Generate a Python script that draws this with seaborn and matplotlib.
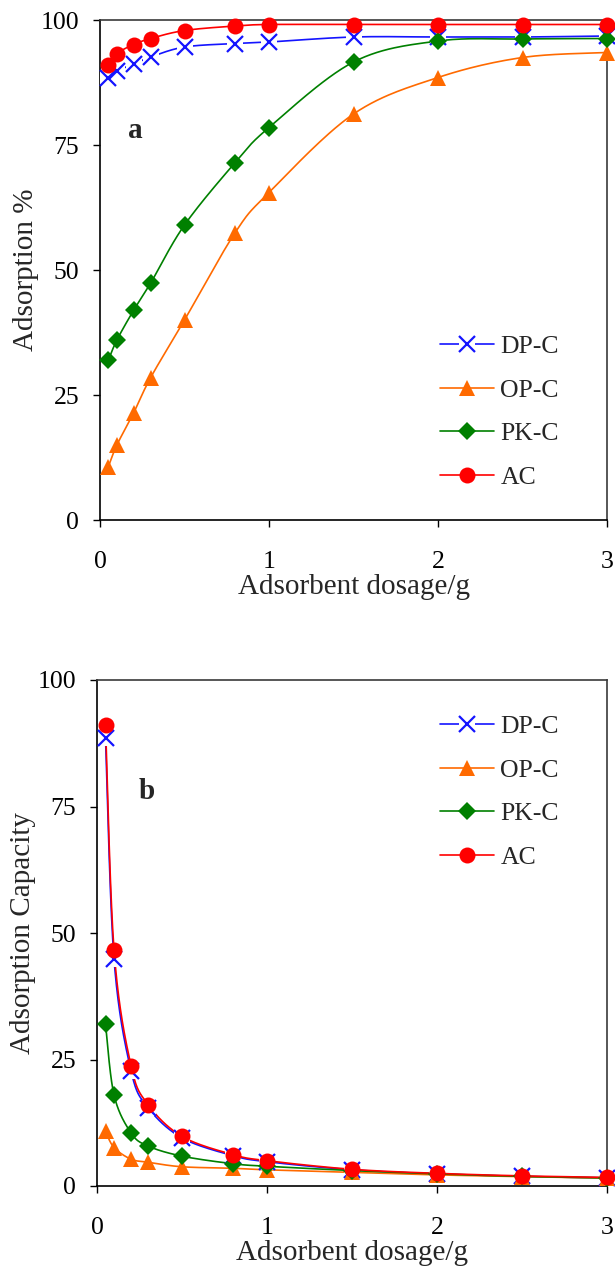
import numpy as np
import matplotlib
matplotlib.use("Agg")
import matplotlib.pyplot as plt
import seaborn as sns
from matplotlib.lines import Line2D
from matplotlib.legend_handler import HandlerTuple

# ---------------- data ----------------
dosage = [0.05, 0.1, 0.2, 0.3, 0.5, 0.8, 1.0, 1.5, 2.0, 2.5, 3.0]
series_names = ["DP-C", "OP-C", "PK-C", "AC"]

pct_dpc = [88.5, 89.8, 91.2, 92.6, 94.6, 95.3, 95.6, 96.6, 96.6, 96.6, 96.8]
pct_opc = [10.7, 15.0, 21.5, 28.5, 40.0, 57.5, 65.5, 81.2, 88.5, 92.5, 93.5]
pct_pkc = [32.0, 36.0, 42.0, 47.4, 59.0, 71.5, 78.5, 91.6, 95.8, 96.2, 96.3]
pct_ac = [91.0, 93.3, 95.1, 96.3, 97.9, 98.8, 99.1, 99.1, 99.1, 99.1, 99.1]

cap_dpc = [88.5, 44.9, 22.8, 15.5, 9.5, 6.0, 4.8, 3.2, 2.4, 1.9, 1.6]
cap_opc = [10.8, 7.6, 5.3, 4.7, 3.8, 3.5, 3.2, 2.7, 2.2, 1.85, 1.55]
cap_pkc = [32.0, 18.0, 10.5, 7.9, 5.9, 4.4, 3.9, 3.05, 2.4, 1.9, 1.6]
cap_ac = [91.2, 46.7, 23.8, 16.1, 9.8, 6.2, 5.0, 3.3, 2.5, 2.0, 1.7]

x_ticks = [0, 1, 2, 3]
y_ticks = [0, 25, 50, 75, 100]

# ---------------- style ----------------
sns.set_theme(style="white")
plt.rcParams["font.family"] = ["Liberation Serif", "DejaVu Serif"]

colors = {"DP-C": "#1414FF", "OP-C": "#FF6A00", "PK-C": "#008000", "AC": "#FF0000"}
mstyle = {
    "DP-C": dict(marker="x", markersize=11.5, markeredgewidth=1.6, markerfacecolor="none"),
    "OP-C": dict(marker="^", markersize=11.5, markeredgewidth=0),
    "PK-C": dict(marker="D", markersize=9.5, markeredgewidth=0),
    "AC": dict(marker="o", markersize=11.5, markeredgewidth=0),
}


def smooth(xs, ys, n=30):
    """Excel-like smoothed curve (Catmull-Rom Bezier) through the points."""
    P = np.column_stack([xs, ys]).astype(float)
    out = []
    m = len(P)
    t = np.linspace(0, 1, n)[:, None]
    for i in range(m - 1):
        p0 = P[i - 1] if i > 0 else P[i]
        p1, p2 = P[i], P[i + 1]
        p3 = P[i + 2] if i + 2 < m else P[i + 1]
        c1 = p1 + (p2 - p0) / 6.0
        c2 = p2 - (p3 - p1) / 6.0
        seg = ((1 - t) ** 3) * p1 + 3 * ((1 - t) ** 2) * t * c1 + 3 * (1 - t) * t ** 2 * c2 + t ** 3 * p2
        out.append(seg if i == 0 else seg[1:])
    S = np.vstack(out)
    return S[:, 0], S[:, 1]


def draw_panel(ax, data, letter, letter_xy, ylabel):
    # lines first
    for name, ys in zip(series_names, data):
        sx, sy = smooth(dosage, ys)
        sns.lineplot(x=sx, y=sy, ax=ax, color=colors[name], linewidth=1.2,
                     sort=False, estimator=None, zorder=3, legend=False)
    # markers, in series order (DP-C has a white background)
    for k, (name, ys) in enumerate(zip(series_names, data)):
        if name == "DP-C":
            ax.plot(dosage, ys, linestyle="none", marker="s", markersize=11,
                    color="white", markeredgewidth=0, zorder=4, clip_on=False)
        ax.plot(dosage, ys, linestyle="none", color=colors[name],
                zorder=4.1 + 0.1 * k, clip_on=False, **mstyle[name])

    ax.set_xlim(0, 3)
    ax.set_ylim(0, 100)
    ax.set_xticks(x_ticks)
    ax.set_yticks(y_ticks)
    ax.tick_params(axis="both", direction="out", length=5, width=1, colors="black",
                   labelsize=18.5, left=True, bottom=True)
    ax.tick_params(axis="x", pad=17)
    ax.tick_params(axis="y", pad=10)
    for s in ["left", "bottom"]:
        ax.spines[s].set_color("black")
        ax.spines[s].set_linewidth(1.2)
    for s in ["top", "right"]:
        ax.spines[s].set_color("#3a3a3a")
        ax.spines[s].set_linewidth(1.2)
    ax.set_xlabel("Adsorbent dosage/g", fontsize=21, labelpad=1)
    ax.set_ylabel(ylabel, fontsize=21, labelpad=1)
    ax.text(letter_xy[0], letter_xy[1], letter, fontsize=21, fontweight="bold",
            ha="center", va="center", transform=ax.transData)

    # legend handles
    handles = []
    for name in series_names:
        ln = Line2D([], [], color=colors[name], linewidth=1.2)
        mk = Line2D([], [], linestyle="none", color=colors[name], **mstyle[name])
        if name == "DP-C":
            bg = Line2D([], [], linestyle="none", marker="s", markersize=11,
                        color="white", markeredgewidth=0)
            handles.append((ln, bg, mk))
        else:
            handles.append((ln, mk))
    return handles


W, H = 615, 1271
fig = plt.figure(figsize=(W / 100, H / 100), dpi=100)

ax1 = fig.add_axes([100 / W, 1 - 520 / H, 507 / W, 500 / H])
ax2 = fig.add_axes([97 / W, 1 - 1186 / H, 510 / W, 506 / H])

h1 = draw_panel(ax1, [pct_dpc, pct_opc, pct_pkc, pct_ac], "a", (0.21, 78), "Adsorption %")
h2 = draw_panel(ax2, [cap_dpc, cap_opc, cap_pkc, cap_ac], "b", (0.29, 78), "Adsorption Capacity")

for ax, h, top in [(ax1, h1, 335), (ax2, h2, 715)]:
    fig.legend(h, series_names, loc="upper left",
               bbox_to_anchor=(440 / W, 1 - top / H), bbox_transform=fig.transFigure,
               frameon=False, fontsize=18.5, handlelength=2.1, handletextpad=0.25,
               labelspacing=0.8, borderpad=0, borderaxespad=0,
               handler_map={tuple: HandlerTuple(ndivide=1, pad=0)})

fig.savefig("out.png", dpi=100)
